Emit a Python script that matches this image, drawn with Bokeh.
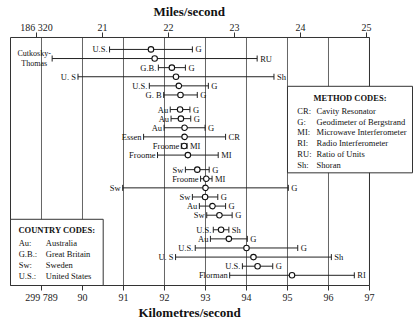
from bokeh.plotting import figure
from bokeh.models import Range1d, LinearAxis, FixedTicker, ColumnDataSource, Title
from bokeh.core.properties import value
from bokeh.embed import file_html
from bokeh.resources import INLINE

# ---------------- data ----------------
left_labels = ["U.S.", "Cutkosky-\nThomas", "G.B.", "U. S", "U.S.", "G. B",
               "Au", "Au", "Au", "Essen", "Froome", "Froome",
               "Sw", "Froome", "Sw", "Sw", "Au", "Sw",
               "U.S.", "Au", "U.S.", "U. S", "U.S.", "Florman"]
right_labels = ["G", "RU", "G", "Sh", "G", "G",
                "G", "G", "G", "CR", "MI", "MI",
                "G", "MI", "G", "G", "G", "G",
                "Sh", "G", "G", "Sh", "G", "RI"]
speeds = [299791.67, 299791.76, 299792.18, 299792.28, 299792.35, 299792.39,
          299792.38, 299792.40, 299792.49, 299792.49, 299792.48, 299792.57,
          299792.80, 299793.02, 299793.00, 299792.99, 299793.17, 299793.34,
          299793.38, 299793.57, 299794.00, 299794.17, 299794.27, 299795.11]
errors = [1.01, 2.50, 0.33, 2.39, 0.72, 0.41,
          0.24, 0.24, 0.50, 1.00, 0.07, 0.74,
          0.29, 0.14, 2.02, 0.31, 0.32, 0.31,
          0.19, 0.45, 1.25, 1.90, 0.37, 1.52]
groups = [0] * 6 + [1] * 6 + [2] * 6 + [3] * 6

km_ticks = [299789, 299790, 299791, 299792, 299793, 299794, 299795, 299796, 299797]
km_tick_labels = ["299 789", "90", "91", "92", "93", "94", "95", "96", "97"]
mi_ticks = [20, 21, 22, 23, 24, 25]
mi_tick_labels = ["186 320", "21", "22", "23", "24", "25"]
MI_FIRST_TICK_KM = 299788.878   # km/s value lying under the first miles tick
KM_PER_MILE = 1.609344

method_codes = ["CR:", "G:", "MI:", "RI:", "RU:", "Sh:"]
method_names = ["Cavity Resonator", "Geodimeter of Bergstrand", "Microwave Interferometer",
                "Radio Interferometer", "Ratio of Units", "Shoran"]
country_codes = ["Au:", "G.B.:", "Sw:", "U.S.:"]
country_names = ["Australia", "Great Britain", "Sweden", "United States"]

# ---------------- layout ----------------
W, H = 416, 320
BORDER_L, BORDER_R, BORDER_T, BORDER_B = 9, 2, 36, 32
PX_PER_KM = 41.0
FRAME_LEFT = 299788.244
GAP = 0.6

ys = [-(i + GAP * g) for i, g in enumerate(groups)]
y_top = 1.31
y_bot = min(ys) - 1.12
ppr = (H - BORDER_T - BORDER_B - 2) / (y_top - y_bot)
pad = 1.0 / ppr
x0 = FRAME_LEFT - 1.0 / PX_PER_KM
x1 = x0 + (W - BORDER_L - BORDER_R) / PX_PER_KM


def to_mi(x):
    return mi_ticks[0] + (x - MI_FIRST_TICK_KM) / KM_PER_MILE


SERIF = "Liberation Serif"
FS = "8.5px"
TXT = "#111111"

p = figure(width=W, height=H, output_backend="svg", toolbar_location=None,
           x_range=Range1d(x0, x1), y_range=Range1d(y_bot - pad, y_top + pad),
           y_axis_location=None, min_border_left=BORDER_L, min_border_right=BORDER_R,
           min_border_top=BORDER_T, min_border_bottom=BORDER_B)
p.outline_line_color = None
p.xgrid.visible = False
p.ygrid.visible = False
p.background_fill_color = "white"
p.border_fill_color = "white"

# titles (left aligned with an offset so they sit centred over the km frame)
p.title.text = "Miles/second"
p.title.align = "left"
p.title.offset = 144
p.title.standoff = 0
p.title.text_font = SERIF
p.title.text_font_style = "bold"
p.title.text_font_size = "13px"
p.title.text_color = TXT
p.add_layout(Title(text="Kilometres/second", align="left", offset=129, standoff=-2,
                   vertical_align="top", text_font=SERIF, text_font_style="bold",
                   text_font_size="13px", text_color=TXT), "below")

# bottom axis (km/s)
ax = p.xaxis[0]
ax.ticker = FixedTicker(ticks=km_ticks)
ax.major_label_overrides = {t: l for t, l in zip(km_ticks, km_tick_labels)}
ax.major_label_standoff = 1

# top axis (miles/s)
p.extra_x_ranges = {"mi": Range1d(to_mi(x0), to_mi(x1))}
top = LinearAxis(x_range_name="mi", ticker=FixedTicker(ticks=mi_ticks),
                 major_label_overrides={t: l for t, l in zip(mi_ticks, mi_tick_labels)})
top.major_label_standoff = 0
p.add_layout(top, "above")

for a in (ax, top):
    a.axis_line_color = None
    a.minor_tick_line_color = None
    a.major_tick_line_color = "#333333"
    a.major_tick_out = 4
    a.major_tick_in = 1
    a.major_label_text_font = SERIF
    a.major_label_text_font_size = "10px"
    a.major_label_text_color = "#222222"

# grid lines and frame
p.segment(x0=km_ticks, y0=[y_bot] * len(km_ticks), x1=km_ticks, y1=[y_top] * len(km_ticks),
          line_color="#666666", line_width=1)
p.quad(left=[FRAME_LEFT], right=[km_ticks[-1]], top=[y_top], bottom=[y_bot],
       fill_color=None, line_color="#333333", line_width=1)

# method codes box
mb_left, mb_right, mb_top, mb_bot = 299795.0, 299798.049, -4.05, -13.55
p.quad(left=[mb_left], right=[mb_right], top=[mb_top], bottom=[mb_bot],
       fill_color="white", line_color="#333333", line_width=1)
m_title_y = -5.34
m_ys = [m_title_y - 1.42 - 1.18 * k for k in range(len(method_codes))]
p.text(x=[(mb_left + mb_right) / 2], y=[m_title_y], text=["METHOD CODES:"],
       text_align="center", text_baseline="middle", text_font=value(SERIF),
       text_font_style="bold", text_font_size=FS, text_color=TXT)
p.text(x=[mb_left + 0.24] * len(m_ys), y=m_ys, text=method_codes, text_align="left",
       text_baseline="middle", text_font=value(SERIF), text_font_size=FS, text_color=TXT)
p.text(x=[mb_left + 0.71] * len(m_ys), y=m_ys, text=method_names, text_align="left",
       text_baseline="middle", text_font=value(SERIF), text_font_size=FS, text_color=TXT)

# country codes box
cb_left, cb_right, cb_top, cb_bot = FRAME_LEFT, 299790.505, -18.65, y_bot
p.quad(left=[cb_left], right=[cb_right], top=[cb_top], bottom=[cb_bot],
       fill_color="white", line_color="#333333", line_width=1)
c_title_y = -19.85
c_ys = [c_title_y - 1.42 - 1.22 * k for k in range(len(country_codes))]
p.text(x=[(cb_left + cb_right) / 2], y=[c_title_y], text=["COUNTRY CODES:"],
       text_align="center", text_baseline="middle", text_font=value(SERIF),
       text_font_style="bold", text_font_size=FS, text_color=TXT)
p.text(x=[cb_left + 0.20] * len(c_ys), y=c_ys, text=country_codes, text_align="left",
       text_baseline="middle", text_font=value(SERIF), text_font_size=FS, text_color=TXT)
p.text(x=[cb_left + 0.86] * len(c_ys), y=c_ys, text=country_names, text_align="left",
       text_baseline="middle", text_font=value(SERIF), text_font_size=FS, text_color=TXT)

# measurements
lo = [s - e for s, e in zip(speeds, errors)]
hi = [s + e for s, e in zip(speeds, errors)]
cap = 0.33
src = ColumnDataSource(dict(s=speeds, y=ys, lo=lo, hi=hi,
                            yl=[y - cap for y in ys], yh=[y + cap for y in ys],
                            rl=right_labels))
p.segment(x0="lo", y0="y", x1="hi", y1="y", source=src, line_color="#222222", line_width=1)
p.segment(x0="lo", y0="yl", x1="lo", y1="yh", source=src, line_color="#222222", line_width=1)
p.segment(x0="hi", y0="yl", x1="hi", y1="yh", source=src, line_color="#222222", line_width=1)
p.scatter(x="s", y="y", source=src, marker="circle", size=5.5, fill_color="white",
          line_color="#111111", line_width=1.1)

single = [i for i, t in enumerate(left_labels) if "\n" not in t]
multi = [i for i, t in enumerate(left_labels) if "\n" in t]
p.text(x=[lo[i] for i in single], y=[ys[i] for i in single], text=[left_labels[i] for i in single],
       text_align="right", text_baseline="middle", x_offset=-2, text_font=value(SERIF),
       text_font_size=FS, text_color=TXT)
p.text(x=[lo[i] for i in multi], y=[ys[i] for i in multi], text=[left_labels[i] for i in multi],
       text_align="center", text_baseline="middle", x_offset=-18, text_font=value(SERIF),
       text_font_size="8px", text_color=TXT, text_line_height=1.05)
p.text(x="hi", y="y", text="rl", source=src, text_align="left", text_baseline="middle",
       x_offset=3, text_font=value(SERIF), text_font_size=FS, text_color=TXT)

open("out.html", "w").write(file_html(p, INLINE))
